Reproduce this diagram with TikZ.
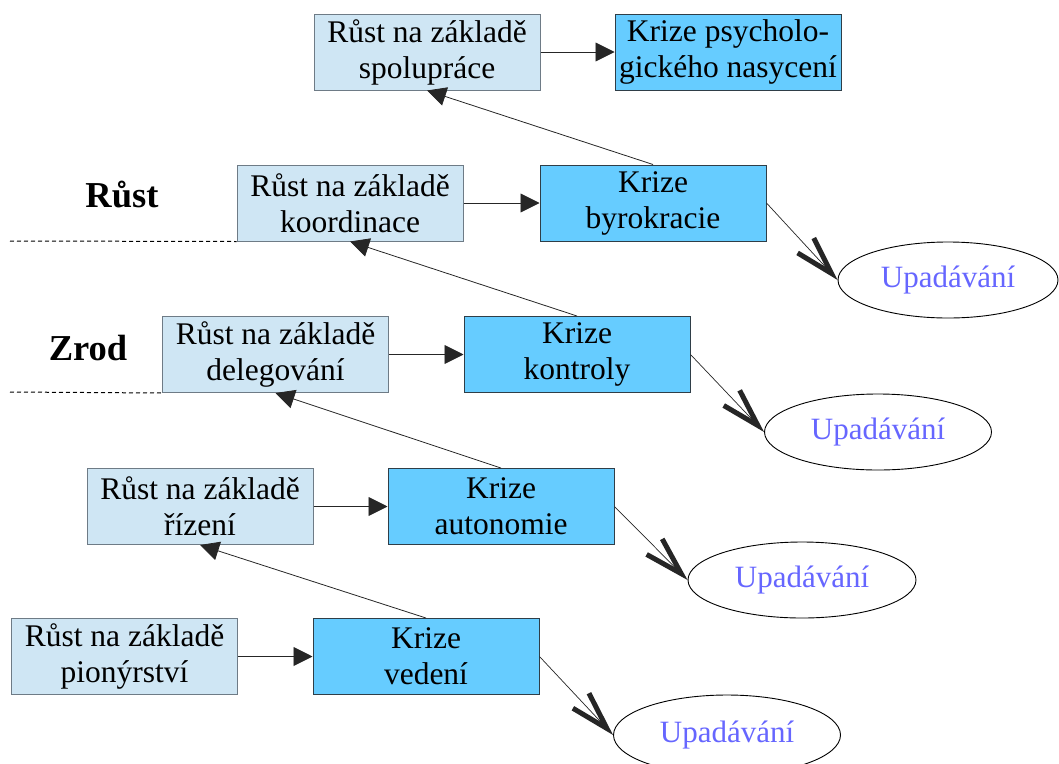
\documentclass[tikz,border=0pt]{standalone}
\usepackage{fontspec}
\setmainfont{LiberationSerif}[Extension=.ttf, UprightFont=*-Regular, BoldFont=*-Bold]
\usetikzlibrary{arrows.meta,shapes.geometric}

\definecolor{growfill}{HTML}{CFE6F4}
\definecolor{growline}{HTML}{6E7B86}
\definecolor{crisisfill}{HTML}{66CCFF}
\definecolor{crisisline}{HTML}{2F3E48}
\definecolor{declinetext}{HTML}{6666FF}

\tikzset{
  base/.style={font=\rmfamily\fontsize{31.5}{36}\selectfont, align=center, inner sep=0pt,
    minimum width=226pt, minimum height=76pt},
  growbox/.style={base, rectangle, draw=growline, fill=growfill, line width=1pt},
  crisisbox/.style={base, rectangle, draw=crisisline, fill=crisisfill, line width=1pt},
  declinebox/.style={font=\rmfamily\fontsize{31}{36}\selectfont, ellipse, draw=black, line width=0.9pt,
    text=declinetext, inner sep=0pt, minimum width=226pt, minimum height=76pt},
  phase/.style={font=\rmfamily\fontsize{36.5}{40}\selectfont\bfseries, inner sep=0pt},
  flow/.style={draw=black!85, line width=0.9pt, -{Triangle[length=19pt,width=19pt]}},
  back/.style={draw=black!85, line width=0.8pt, -{Triangle[length=19pt,width=19pt]}},
  fall/.style={draw=black!85, line width=0.7pt,
    -{Straight Barb[length=38pt,width=22pt,line width=5pt]}},
  divider/.style={draw=black, line width=1pt, dash pattern=on 4pt off 3pt}
}

\begin{document}
\begin{tikzpicture}[x=1pt,y=-1pt]
  \useasboundingbox (0,0) rectangle (1059,763);

  % growth stages
  \node[growbox] (g5) at (427,52)    {Růst na základě\\spolupráce};
  \node[growbox] (g4) at (350,203)   {Růst na základě\\koordinace};
  \node[growbox] (g3) at (275.5,354.5) {Růst na základě\\delegování};
  \node[growbox] (g2) at (200,506.5) {Růst na základě\\řízení};
  \node[growbox] (g1) at (124.5,656.5) {Růst na základě\\pionýrství};

  % crises
  \node[crisisbox] (c5) at (728,52)    {Krize psycholo-\\gického nasycení};
  \node[crisisbox] (c4) at (653,203)   {Krize\\byrokracie};
  \node[crisisbox] (c3) at (577,354.5) {Krize\\kontroly};
  \node[crisisbox] (c2) at (501,506.5) {Krize\\autonomie};
  \node[crisisbox] (c1) at (426,656.5) {Krize\\vedení};

  % decline outcomes
  \node[declinebox, minimum width=220pt] (d4) at (948,280) {Upadávání};
  \node[declinebox, minimum width=227pt] (d3) at (878,432) {Upadávání};
  \node[declinebox, minimum width=228pt] (d2) at (802,580) {Upadávání};
  \node[declinebox, minimum width=227pt, minimum height=80pt] (d1) at (727,735) {Upadávání};

  % phase labels and dividers
  \node[phase] (pr) at (122,195) {Růst};
  \node[phase] (pz) at (88,348) {Zrod};
  \coordinate (l1) at (10,241);
  \coordinate (l2) at (10,392);
  \draw[divider] (l1) -- (g4.south west);
  \draw[divider] (l2) -- (g3.south west);

  % growth leads to crisis
  \draw[flow] (g5) -- (c5);
  \draw[flow] (g4) -- (c4);
  \draw[flow] (g3) -- (c3);
  \draw[flow] (g2) -- (c2);
  \draw[flow] (g1) -- (c1);

  % resolved crisis leads to the next growth stage
  \draw[back] (c4.north) -- (g5.south);
  \draw[back] (c3.north) -- (g4.south);
  \draw[back] (c2.north) -- (g3.south);
  \draw[back] (c1.north) -- (g2.south);

  % unresolved crisis leads to decline
  \draw[fall] (c4.east) -- (d4.west);
  \draw[fall] (c3.east) -- (d3.west);
  \draw[fall] (c2.east) -- (d2.west);
  \draw[fall] (c1.east) -- (d1.west);
\end{tikzpicture}
\end{document}
